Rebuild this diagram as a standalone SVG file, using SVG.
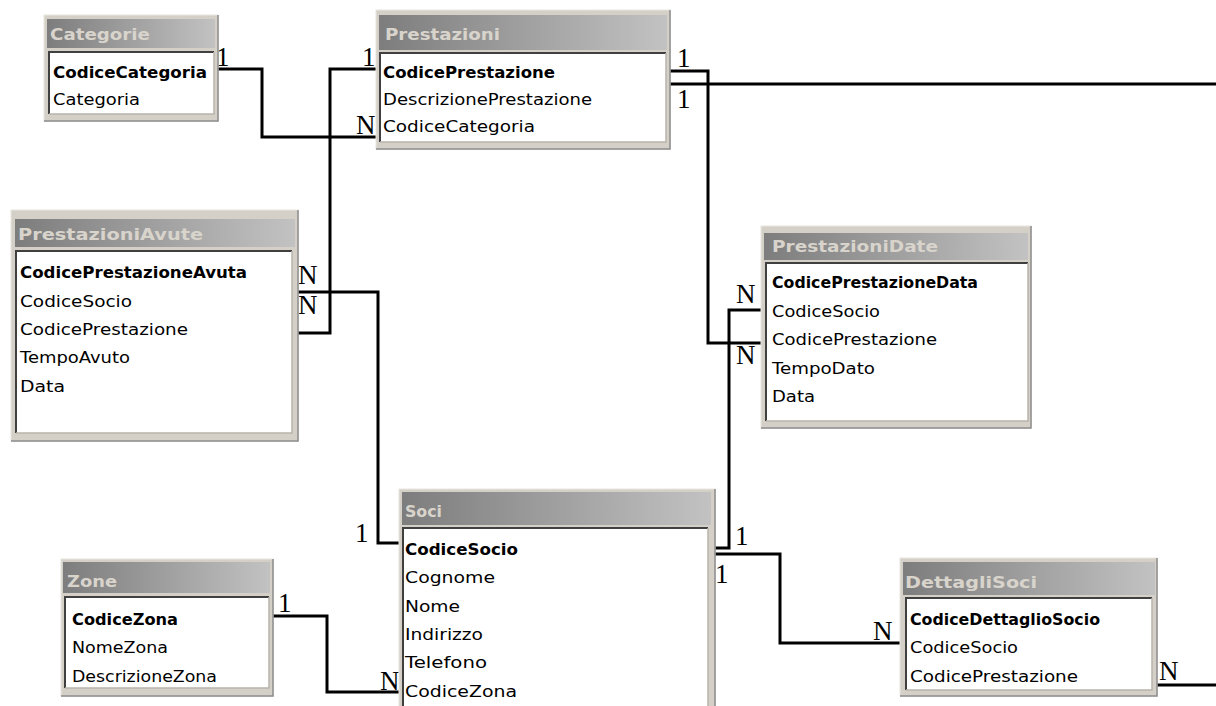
<svg xmlns="http://www.w3.org/2000/svg" width="1216" height="706" viewBox="0 0 1216 706">
<defs>
<linearGradient id="tg" x1="0" y1="0" x2="1" y2="0">
<stop offset="0" stop-color="#7d7d7d"/>
<stop offset="1" stop-color="#c2c2c2"/>
</linearGradient>
</defs>
<style>
.frame{fill:#d4d0c8;stroke:#e8e6e0;stroke-width:1}
.shadow{stroke:#8a8a8a;stroke-width:1.5;fill:none}
.title{fill:url(#tg)}
.list{fill:#ffffff}
.sunk{fill:none;stroke:#404040;stroke-width:2}
.lite{fill:none;stroke:#b8b4ac;stroke-width:1.5}
.h{font-family:"DejaVu Sans",Verdana,sans-serif;font-size:16px;font-weight:bold;fill:#d8d4cc}
.f{font-family:"DejaVu Sans",Verdana,sans-serif;font-size:16px;fill:#000}
.k{font-family:"DejaVu Sans",Verdana,sans-serif;font-size:16px;font-weight:bold;fill:#000}
.c{font-family:"Liberation Serif","Times New Roman",serif;font-size:27px;fill:#000}
.ln{fill:none;stroke:#000;stroke-width:3}
</style>

<g id="connectors">
<path class="ln" d="M213,69 H262 V137 H380"/>
<path class="ln" d="M380,69 H330 V333 H293"/>
<path class="ln" d="M293,292 H378 V543 H403"/>
<path class="ln" d="M667,71 H708 V343 H767"/>
<path class="ln" d="M667,84 H1216"/>
<path class="ln" d="M1156,685 H1216"/>
<path class="ln" d="M708,548 H729 V310 H767"/>
<path class="ln" d="M708,554 H780 V643 H904"/>
<path class="ln" d="M270,616 H327 V692 H403"/>
<text class="c" x="216" y="66">1</text>
<text class="c" x="362" y="66">1</text>
<text class="c" x="356" y="134">N</text>
<text class="c" x="298" y="284">N</text>
<text class="c" x="298" y="314">N</text>
<text class="c" x="677" y="67">1</text>
<text class="c" x="677" y="108">1</text>
<text class="c" x="736" y="303">N</text>
<text class="c" x="736" y="364">N</text>
<text class="c" x="355" y="542">1</text>
<text class="c" x="735" y="545">1</text>
<text class="c" x="715" y="583">1</text>
<text class="c" x="873" y="640">N</text>
<text class="c" x="1159" y="680">N</text>
<text class="c" x="278" y="612">1</text>
<text class="c" x="380" y="690">N</text>
</g>

<g id="Categorie">
<rect class="frame" x="44" y="15" width="174" height="106"/>
<path class="shadow" d="M218,15 V121 H44"/>
<rect class="title" x="47" y="19" width="168" height="29"/>
<text class="h" x="50" y="40" textLength="100" lengthAdjust="spacingAndGlyphs">Categorie</text>
<rect class="list" x="49" y="52" width="165" height="62"/>
<path class="sunk" d="M49,114 V52 H214"/>
<path class="lite" d="M214,52 V114 H49"/>
<text class="k" x="53" y="78" textLength="154" lengthAdjust="spacingAndGlyphs">CodiceCategoria</text>
<text class="f" x="53" y="105" textLength="87" lengthAdjust="spacingAndGlyphs">Categoria</text>
</g>

<g id="Prestazioni">
<rect class="frame" x="376" y="10" width="294" height="139"/>
<path class="shadow" d="M670,10 V149 H376"/>
<rect class="title" x="379" y="15" width="288" height="35"/>
<text class="h" x="385" y="40" textLength="115" lengthAdjust="spacingAndGlyphs">Prestazioni</text>
<rect class="list" x="380" y="53" width="286" height="89"/>
<path class="sunk" d="M380,142 V53 H666"/>
<path class="lite" d="M666,53 V142 H380"/>
<text class="k" x="383" y="78" textLength="172" lengthAdjust="spacingAndGlyphs">CodicePrestazione</text>
<text class="f" x="383" y="105" textLength="209" lengthAdjust="spacingAndGlyphs">DescrizionePrestazione</text>
<text class="f" x="383" y="132" textLength="152" lengthAdjust="spacingAndGlyphs">CodiceCategoria</text>
</g>

<g id="PrestazioniAvute">
<rect class="frame" x="11" y="210" width="287" height="231"/>
<path class="shadow" d="M298,210 V441 H11"/>
<rect class="title" x="15" y="219" width="280" height="28"/>
<text class="h" x="18" y="240" textLength="185" lengthAdjust="spacingAndGlyphs">PrestazioniAvute</text>
<rect class="list" x="16" y="251" width="276" height="182"/>
<path class="sunk" d="M16,433 V251 H292"/>
<path class="lite" d="M292,251 V433 H16"/>
<text class="k" x="20" y="278" textLength="227" lengthAdjust="spacingAndGlyphs">CodicePrestazioneAvuta</text>
<text class="f" x="20" y="307" textLength="112" lengthAdjust="spacingAndGlyphs">CodiceSocio</text>
<text class="f" x="20" y="335" textLength="168" lengthAdjust="spacingAndGlyphs">CodicePrestazione</text>
<text class="f" x="20" y="363" textLength="110" lengthAdjust="spacingAndGlyphs">TempoAvuto</text>
<text class="f" x="20" y="392" textLength="45" lengthAdjust="spacingAndGlyphs">Data</text>
</g>

<g id="PrestazioniDate">
<rect class="frame" x="761" y="226" width="270" height="202"/>
<path class="shadow" d="M1031,226 V428 H761"/>
<rect class="title" x="764" y="233" width="264" height="27"/>
<text class="h" x="772" y="252" textLength="166" lengthAdjust="spacingAndGlyphs">PrestazioniDate</text>
<rect class="list" x="766" y="263" width="262" height="158"/>
<path class="sunk" d="M766,421 V263 H1028"/>
<path class="lite" d="M1028,263 V421 H766"/>
<text class="k" x="772" y="288" textLength="206" lengthAdjust="spacingAndGlyphs">CodicePrestazioneData</text>
<text class="f" x="772" y="317" textLength="108" lengthAdjust="spacingAndGlyphs">CodiceSocio</text>
<text class="f" x="772" y="345" textLength="165" lengthAdjust="spacingAndGlyphs">CodicePrestazione</text>
<text class="f" x="772" y="374" textLength="103" lengthAdjust="spacingAndGlyphs">TempoDato</text>
<text class="f" x="772" y="402" textLength="43" lengthAdjust="spacingAndGlyphs">Data</text>
</g>

<g id="Soci">
<rect class="frame" x="399" y="489" width="316" height="220"/>
<path class="shadow" d="M715,489 V706"/>
<rect class="title" x="402" y="492" width="309" height="33"/>
<text class="h" x="405" y="517" textLength="37" lengthAdjust="spacingAndGlyphs">Soci</text>
<rect class="list" x="403" y="528" width="305" height="182"/>
<path class="sunk" d="M403,710 V528 H708"/>
<path class="lite" d="M708,528 V710"/>
<text class="k" x="405" y="555" textLength="113" lengthAdjust="spacingAndGlyphs">CodiceSocio</text>
<text class="f" x="405" y="583" textLength="90" lengthAdjust="spacingAndGlyphs">Cognome</text>
<text class="f" x="405" y="612" textLength="55" lengthAdjust="spacingAndGlyphs">Nome</text>
<text class="f" x="405" y="640" textLength="78" lengthAdjust="spacingAndGlyphs">Indirizzo</text>
<text class="f" x="405" y="668" textLength="82" lengthAdjust="spacingAndGlyphs">Telefono</text>
<text class="f" x="405" y="697" textLength="112" lengthAdjust="spacingAndGlyphs">CodiceZona</text>
</g>

<g id="Zone">
<rect class="frame" x="61" y="559" width="212" height="137"/>
<path class="shadow" d="M273,559 V696 H61"/>
<rect class="title" x="63" y="562" width="207" height="31"/>
<text class="h" x="67" y="587" textLength="50" lengthAdjust="spacingAndGlyphs">Zone</text>
<rect class="list" x="65" y="597" width="204" height="91"/>
<path class="sunk" d="M65,688 V597 H269"/>
<path class="lite" d="M269,597 V688 H65"/>
<text class="k" x="72" y="625" textLength="106" lengthAdjust="spacingAndGlyphs">CodiceZona</text>
<text class="f" x="72" y="653" textLength="96" lengthAdjust="spacingAndGlyphs">NomeZona</text>
<text class="f" x="72" y="682" textLength="145" lengthAdjust="spacingAndGlyphs">DescrizioneZona</text>
</g>

<g id="DettagliSoci">
<rect class="frame" x="900" y="558" width="257" height="138"/>
<path class="shadow" d="M1157,558 V696 H900"/>
<rect class="title" x="903" y="562" width="252" height="33"/>
<text class="h" x="905" y="588" textLength="132" lengthAdjust="spacingAndGlyphs">DettagliSoci</text>
<rect class="list" x="906" y="598" width="246" height="92"/>
<path class="sunk" d="M906,690 V598 H1152"/>
<path class="lite" d="M1152,598 V690 H906"/>
<text class="k" x="910" y="625" textLength="190" lengthAdjust="spacingAndGlyphs">CodiceDettaglioSocio</text>
<text class="f" x="910" y="653" textLength="108" lengthAdjust="spacingAndGlyphs">CodiceSocio</text>
<text class="f" x="910" y="682" textLength="168" lengthAdjust="spacingAndGlyphs">CodicePrestazione</text>
</g>
</svg>
